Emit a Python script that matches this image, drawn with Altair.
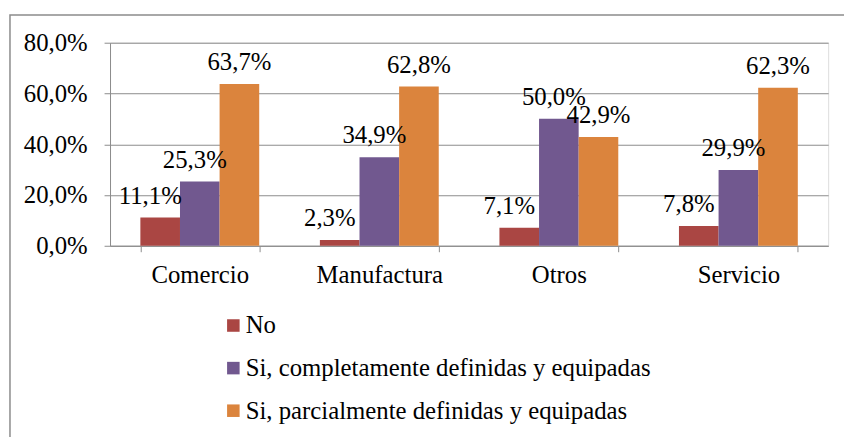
import altair as alt
import pandas as pd

categories = ["Comercio", "Manufactura", "Otros", "Servicio"]
series = ["No", "Si, completamente definidas y equipadas", "Si, parcialmente definidas y equipadas"]
no_vals = [0.111, 0.023, 0.071, 0.078]
comp_vals = [0.253, 0.349, 0.500, 0.299]
parc_vals = [0.637, 0.628, 0.429, 0.623]
colors = ["#AA4643", "#71588F", "#DB843D"]

rows = []
for s, vals in zip(series, [no_vals, comp_vals, parc_vals]):
    for c, v in zip(categories, vals):
        rows.append({"cat": c, "serie": s, "val": v,
                     "lbl": f"{v*100:.1f}%".replace(".", ",")})
df = pd.DataFrame(rows)

FONT = "Liberation Serif, Times New Roman, DejaVu Serif, serif"
FS = 25
GRID = "#8C8C8C"

x = alt.X("cat:N", sort=categories, title=None,
          scale=alt.Scale(paddingInner=0.338, paddingOuter=0.169),
          axis=alt.Axis(labelAngle=0, labelFont=FONT, labelFontSize=FS, labelColor="#000",
                        labelPadding=11, tickBand="extent", tickSize=6, tickColor=GRID,
                        domainColor=GRID, grid=False))
y = alt.Y("val:Q", title=None,
          scale=alt.Scale(domain=[0, 0.8]),
          axis=alt.Axis(values=[0, 0.2, 0.4, 0.6, 0.8],
                        labelExpr="replace(format(datum.value, '.1%'), '.', ',')",
                        labelFont=FONT, labelFontSize=FS, labelColor="#000",
                        labelPadding=17, tickSize=6, tickColor=GRID, domainColor=GRID,
                        gridColor=GRID, gridWidth=1))
xo = alt.XOffset("serie:N", sort=series)

base = alt.Chart(df)
bars = base.mark_bar().encode(
    x=x, y=y, xOffset=xo,
    color=alt.Color("serie:N", sort=series,
                    scale=alt.Scale(domain=series, range=colors),
                    legend=alt.Legend(title=None, orient="none", legendX=112, legendY=273,
                                      symbolType="square", symbolSize=160,
                                      symbolStrokeWidth=0, labelFont=FONT, labelFontSize=FS,
                                      labelColor="#000", rowPadding=17, labelOffset=0,
                                      labelLimit=600)),
)

dxs = [-10, -5, 0]
texts = []
for s, d in zip(series, dxs):
    texts.append(
        base.transform_filter(alt.datum.serie == s)
        .mark_text(font=FONT, fontSize=FS, color="#000", baseline="alphabetic", dy=-14, dx=d)
        .encode(x=x, y=y, xOffset=alt.XOffset("serie:N", sort=series,
                                               scale=alt.Scale(domain=series)),
                text="lbl:N")
    )

border = alt.Chart(alt.Data(values=[{}])).mark_rect(
    fill=None, stroke=GRID, strokeWidth=1.5
).encode(x=alt.value(-101), x2=alt.value(780), y=alt.value(-28), y2=alt.value(450))

chart = alt.layer(border, bars, *texts).properties(
    width=725, height=205,
    autosize=alt.AutoSizeParams(type="none"),
    padding={"left": 103, "top": 33, "right": 16, "bottom": 191},
).configure_view(stroke=None).configure(background="white", font=FONT)

chart.save("out.html", embed_options={"renderer": "svg", "actions": False})
